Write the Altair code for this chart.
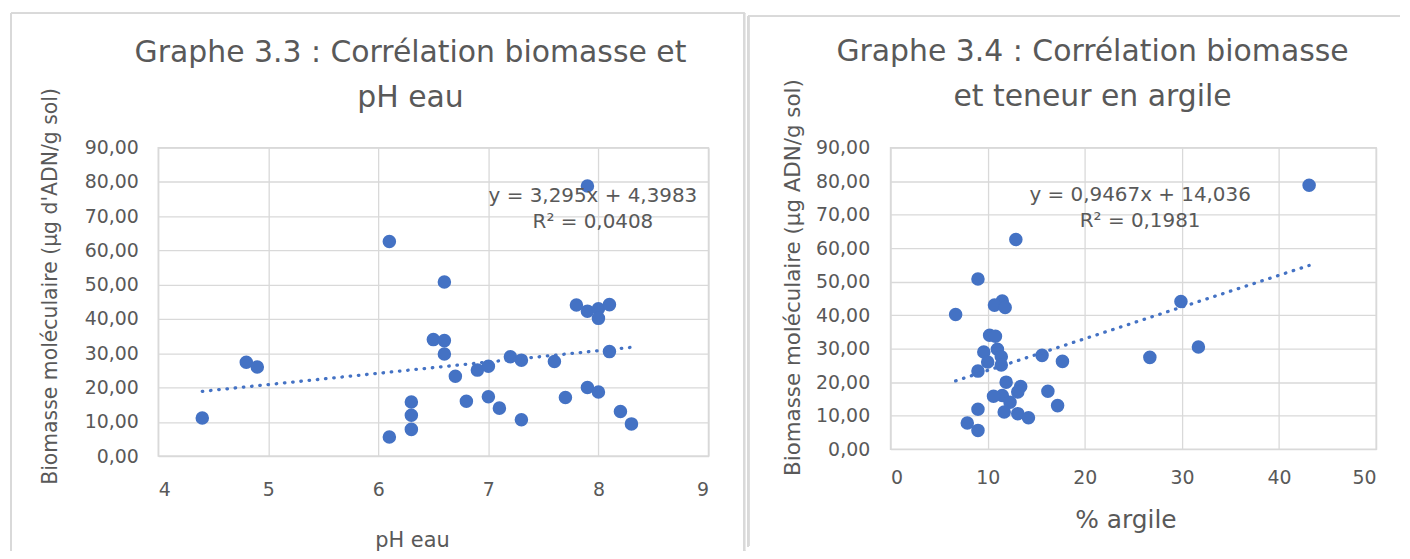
import altair as alt
import pandas as pd

# ---------------- data ----------------
ph_eau = [4.4, 4.8, 4.9, 6.1, 6.1, 6.3, 6.3, 6.3, 6.5, 6.6, 6.6, 6.6, 6.7, 6.8, 6.9,
          7.0, 7.0, 7.1, 7.2, 7.3, 7.3, 7.6, 7.7, 7.8, 7.9, 7.9, 7.9, 8.0, 8.0, 8.0,
          8.1, 8.1, 8.2, 8.3]
biomasse_ph = [11.1, 27.4, 26.0, 62.6, 5.6, 15.8, 11.9, 7.8, 34.0, 50.8, 33.7, 29.8,
               23.3, 16.0, 25.1, 26.2, 17.3, 14.0, 29.0, 28.0, 10.6, 27.6, 17.1, 44.1,
               78.8, 42.3, 20.0, 43.0, 40.2, 18.7, 44.2, 30.5, 13.0, 9.4]

argile = [43.1, 12.9, 9.0, 11.5, 29.9, 10.7, 11.8, 6.7, 10.2, 10.8, 31.7, 11.0, 9.6,
          15.6, 11.4, 26.7, 17.7, 10.0, 11.4, 9.0, 11.9, 13.4, 16.2, 13.1, 11.5, 10.6,
          12.3, 17.2, 9.0, 11.7, 13.1, 14.2, 7.9, 9.0]
biomasse_argile = [78.8, 62.6, 50.8, 44.2, 44.1, 43.0, 42.3, 40.2, 34.0, 33.7, 30.5,
                   29.8, 29.0, 28.0, 27.6, 27.4, 26.2, 26.0, 25.1, 23.3, 20.0, 18.7,
                   17.3, 17.1, 16.0, 15.8, 14.0, 13.0, 11.9, 11.1, 10.6, 9.4, 7.8, 5.6]

# trendline coefficients (slope, intercept) as printed on the chart
coef_ph = [3.295, 4.3983]
coef_argile = [0.9467, 14.036]

eq_ph = ["y = 3,295x + 4,3983", "R² = 0,0408"]
eq_argile = ["y = 0,9467x + 14,036", "R² = 0,1981"]
eq_ph_anchor = [7.95, 76.0, 68.4]        # x, y of line 1, y of line 2 (data units)
eq_argile_anchor = [25.7, 76.0, 68.1]

titre_ph = ["Graphe 3.3 : Corrélation biomasse et", "pH eau"]
titre_argile = ["Graphe 3.4 : Corrélation biomasse", "et teneur en argile"]
ytitre_ph = "Biomasse moléculaire (µg d'ADN/g sol)"
ytitre_argile = "Biomasse moléculaire (µg ADN/g sol)"
xtitre_ph = "pH eau"
xtitre_argile = "% argile"

x_ticks_ph = [4, 5, 6, 7, 8, 9]
x_ticks_argile = [0, 10, 20, 30, 40, 50]
y_ticks = [0, 10, 20, 30, 40, 50, 60, 70, 80, 90]

# ---------------- style ----------------
BLUE = "#4472C4"
GREY = "#595959"
GRID = "#D9D9D9"
FONT = "DejaVu Sans"


def panel(xs, ys, coef, eq, eq_anchor, title, ytitle, xtitle, xticks, width, height,
          title_dx, title_offset, ytitle_y, xtitle_x, y_lab_pad, y_title_pad,
          x_lab_pad, x_title_pad, x_title_size, y_title_size, border, right_edge):
    df = pd.DataFrame({"x": xs, "y": ys})
    xmin, xmax = min(xs), max(xs)
    trend = pd.DataFrame({"x": [xmin, xmax],
                          "y": [coef[0] * xmin + coef[1], coef[0] * xmax + coef[1]]})
    eqdf = pd.DataFrame({"x": [eq_anchor[0], eq_anchor[0]],
                         "y": [eq_anchor[1], eq_anchor[2]],
                         "t": eq})

    xscale = alt.Scale(domain=[xticks[0], xticks[-1]], nice=False, zero=False)
    yscale = alt.Scale(domain=[0, 90], nice=False)

    xaxis = alt.Axis(values=xticks, tickCount=len(xticks), title=xtitle,
                     labelPadding=x_lab_pad, titlePadding=x_title_pad,
                     titleFontSize=x_title_size, titleX=xtitle_x, format="d",
                     labelOverlap=False)
    yaxis = alt.Axis(values=y_ticks, tickCount=len(y_ticks), title=ytitle,
                     labelPadding=y_lab_pad, titlePadding=y_title_pad,
                     titleY=ytitle_y, titleFontSize=y_title_size, labelOverlap=False,
                     labelExpr="replace(format(datum.value, '.2f'), '.', ',')")

    X = alt.X("x:Q", scale=xscale, axis=xaxis)
    Y = alt.Y("y:Q", scale=yscale, axis=yaxis)

    pts = alt.Chart(df).mark_circle(size=185, opacity=1, color=BLUE).encode(x=X, y=Y)
    line = alt.Chart(trend).mark_line(
        color=BLUE, strokeWidth=3.3, strokeDash=[0.5, 7.8], strokeCap="round"
    ).encode(x=X, y=Y)
    txt = alt.Chart(eqdf).mark_text(
        font=FONT, fontSize=20, color=GREY, align="center", baseline="middle"
    ).encode(x=X, y=Y, text="t:N")

    # light frame of the chart area (decoration)
    bl, bt, br, bb = border
    rules = [
        alt.Chart(df).mark_rule(color=GRID, strokeWidth=1.5).encode(
            x=alt.value(bl), x2=alt.value(br), y=alt.value(bt)),
        alt.Chart(df).mark_rule(color=GRID, strokeWidth=1.5).encode(
            x=alt.value(bl), y=alt.value(bt), y2=alt.value(bb)),
    ]
    if right_edge:
        rules.append(alt.Chart(df).mark_rule(color=GRID, strokeWidth=1.5).encode(
            x=alt.value(br), y=alt.value(bt), y2=alt.value(bb)))

    return alt.layer(pts, line, txt, *rules).properties(
        width=width, height=height,
        title=alt.TitleParams(text=title, fontSize=30, color=GREY, font=FONT,
                              fontWeight="normal", frame="group", anchor="middle",
                              dx=title_dx, offset=title_offset, lineHeight=45),
    )


left = panel(ph_eau, biomasse_ph, coef_ph, eq_ph, eq_ph_anchor, titre_ph, ytitre_ph,
             xtitre_ph, x_ticks_ph, 553, 310, -23, -101, 139, 255, 20, 24, 25, 30, 21,
             20.5, (-148, -135, 589, 405), True)
right = panel(argile, biomasse_argile, coef_argile, eq_argile, eq_argile_anchor,
              titre_argile, ytitre_argile, xtitre_argile, x_ticks_argile, 488, 303,
              -41, -97, 130, 236, 21, 11, 20, 20, 25, 21.5,
              (-143, -132, 512, 401), False)

chart = alt.hconcat(left, right, spacing=0).properties(
    padding={"left": 1, "top": 2, "right": 0, "bottom": 0},
    background="white",
).configure_view(
    stroke=GRID, strokeWidth=1.5
).configure_axis(
    grid=True, gridColor=GRID, gridWidth=1.3, domain=False, ticks=False, tickSize=0,
    labelColor=GREY, labelFont=FONT, labelFontSize=19, titleColor=GREY,
    titleFont=FONT, titleFontSize=19, titleFontWeight="normal"
)

chart.save("out.html", embed_options={"renderer": "svg", "actions": False})
